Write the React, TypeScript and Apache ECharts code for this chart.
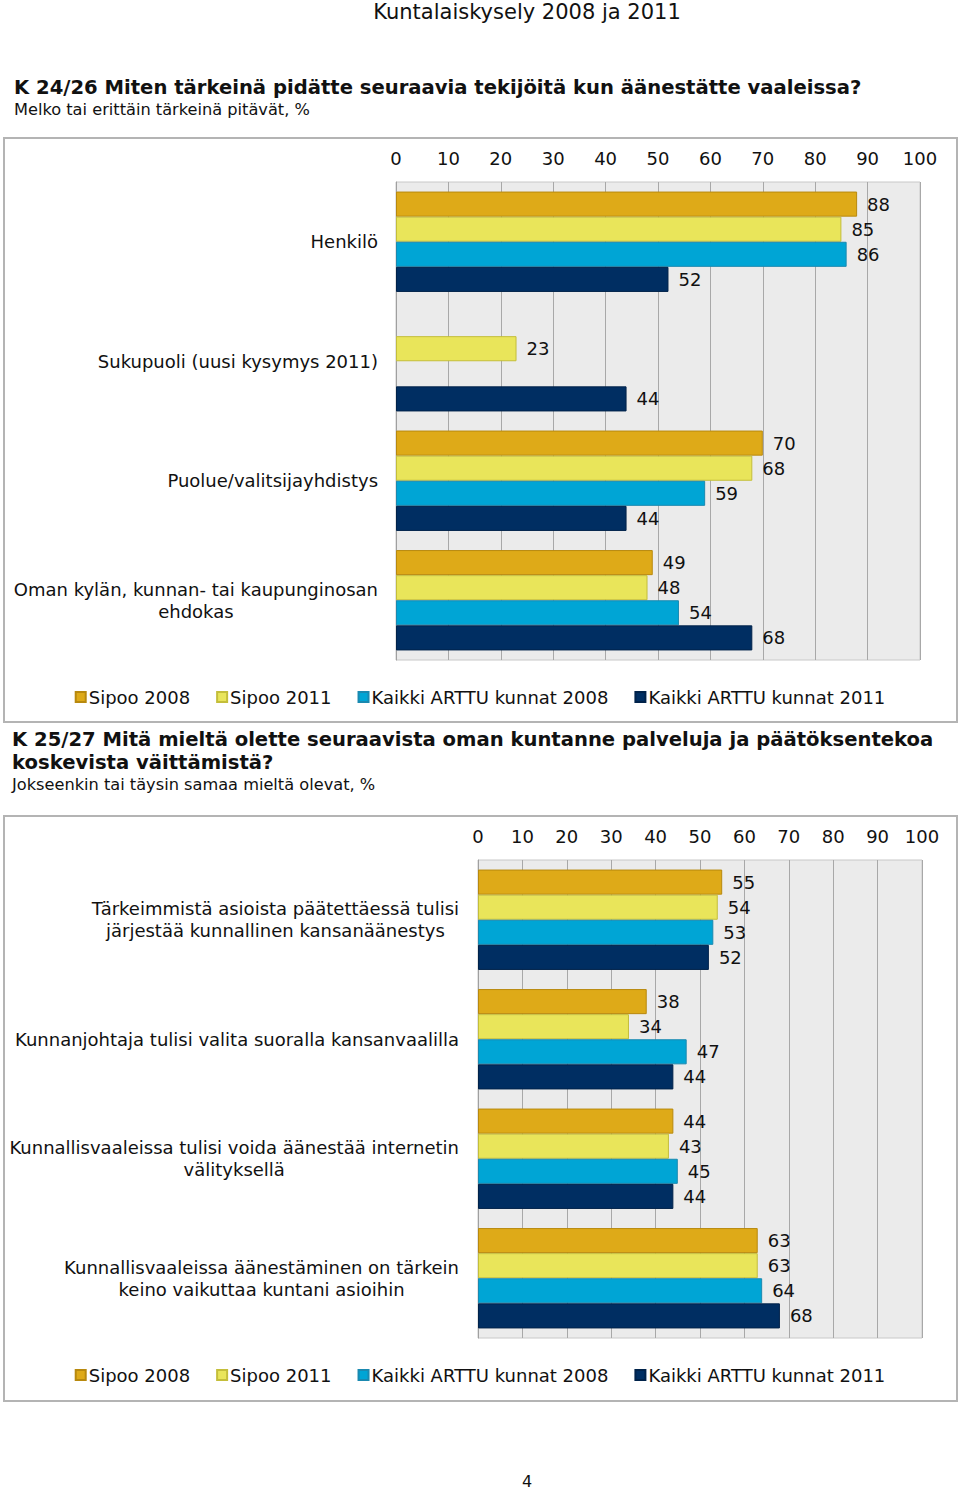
import React, { useEffect, useRef } from "react";
import * as echarts from "echarts";

const FONT = "'DejaVu Sans', Verdana, sans-serif";

const seriesNames = ["Sipoo 2008", "Sipoo 2011", "Kaikki ARTTU kunnat 2008", "Kaikki ARTTU kunnat 2011"];

const categories1 = [
  "Henkilö",
  "Sukupuoli (uusi kysymys 2011)",
  "Puolue/valitsijayhdistys",
  "Oman kylän, kunnan- tai kaupunginosan\nehdokas",
];
const sipoo2008A = [88, null, 70, 49];
const sipoo2011A = [85, 23, 68, 48];
const arttu2008A = [86, null, 59, 54];
const arttu2011A = [52, 44, 44, 68];

const categories2 = [
  "Tärkeimmistä asioista päätettäessä tulisi\njärjestää kunnallinen kansanäänestys",
  "Kunnanjohtaja tulisi valita suoralla kansanvaalilla",
  "Kunnallisvaaleissa tulisi voida äänestää internetin\nvälityksellä",
  "Kunnallisvaaleissa äänestäminen on tärkein\nkeino vaikuttaa kuntani asioihin",
];
const sipoo2008B = [55, 38, 44, 63];
const sipoo2011B = [54, 34, 43, 63];
const arttu2008B = [53, 47, 45, 64];
const arttu2011B = [52, 44, 44, 68];

const xTicks = { min: 0, max: 100, interval: 10 };

const colors = ["#DEAA18", "#E9E55A", "#00A5D5", "#002E62"];
const borders = ["#B8890E", "#C4BE3A", "#1A89B0", "#00224A"];

export default function App() {
  const ref = useRef<HTMLDivElement>(null);

  useEffect(() => {
    if (!ref.current) return;
    const chart = echarts.init(ref.current, null, { renderer: "svg" });

    const grids = [
      { left: 396, top: 182, width: 524, height: 478 },
      { left: 478, top: 860, width: 444, height: 478 },
    ];

    const xAxis = [0, 1].map((i) => ({
      type: "value",
      gridIndex: i,
      position: "top",
      min: xTicks.min,
      max: xTicks.max,
      interval: xTicks.interval,
      axisLine: { show: false },
      axisTick: { show: false },
      axisLabel: { fontSize: 18, fontFamily: FONT, color: "#111", margin: 15 },
      splitLine: { show: true, lineStyle: { color: "#a8a8a8", width: 1 } },
    }));

    const yAxis = [categories1, categories2].map((cats, i) => ({
      type: "category",
      gridIndex: i,
      data: cats,
      inverse: true,
      axisLine: { show: true, lineStyle: { color: "#a0a0a0" } },
      axisTick: { show: false },
      axisLabel: {
        margin: i === 0 ? 18 : 19,
        formatter: (v: string) => v.split("\n").map((l) => `{c|${l}}`).join("\n"),
        rich: {
          c: { align: "center", fontSize: 18, fontFamily: FONT, color: "#111", lineHeight: 22 },
        },
      },
    }));

    const dataA = [sipoo2008A, sipoo2011A, arttu2008A, arttu2011A];
    const dataB = [sipoo2008B, sipoo2011B, arttu2008B, arttu2011B];

    const series: any[] = [];
    [dataA, dataB].forEach((set, gi) => {
      set.forEach((d, si) => {
        series.push({
          type: "bar",
          name: seriesNames[si],
          xAxisIndex: gi,
          yAxisIndex: gi,
          data: d,
          barGap: "0%",
          barCategoryGap: "16%",
          itemStyle: { color: colors[si], borderColor: borders[si], borderWidth: 1 },
          label: {
            show: true,
            position: "right",
            distance: 10,
            fontSize: 18,
            fontFamily: FONT,
            color: "#111",
          },
        });
      });
    });

    const legendBase = {
      data: seriesNames,
      left: "center",
      icon: "rect",
      itemWidth: 10,
      itemHeight: 10,
      itemGap: 26,
      selectedMode: false,
      textStyle: { fontSize: 18, fontFamily: FONT, color: "#111", padding: [0, 0, 0, -2] },
    };

    const txt = (text: string, x: number, y: number, fontSize: number, bold = false, align = "left") => ({
      type: "text",
      x,
      y,
      style: {
        text,
        fontSize,
        fontWeight: bold ? "bold" : "normal",
        fontFamily: FONT,
        fill: "#111",
        textAlign: align,
        textVerticalAlign: "middle",
      },
    });

    chart.setOption({
      animation: false,
      grid: grids.map((g) => ({
        ...g,
        show: true,
        backgroundColor: "#ebebeb",
        borderColor: "#c8c8c8",
        borderWidth: 1,
      })),
      xAxis,
      yAxis,
      series,
      legend: [
        { ...legendBase, top: 683 },
        { ...legendBase, top: 1361 },
      ],
      graphic: [
        {
          type: "rect",
          shape: { x: 4, y: 138, width: 953, height: 584 },
          style: { fill: "none", stroke: "#b4b4b4", lineWidth: 2 },
        },
        {
          type: "rect",
          shape: { x: 4, y: 816, width: 953, height: 585 },
          style: { fill: "none", stroke: "#b4b4b4", lineWidth: 2 },
        },
        txt("Kuntalaiskysely 2008 ja 2011", 527, 12, 21, false, "center"),
        txt("K 24/26 Miten tärkeinä pidätte seuraavia tekijöitä kun äänestätte vaaleissa?", 14, 87, 19.6, true),
        txt("Melko tai erittäin tärkeinä pitävät, %", 14, 109, 16.2),
        txt("K 25/27 Mitä mieltä olette seuraavista oman kuntanne palveluja ja päätöksentekoa", 12, 739, 19.6, true),
        txt("koskevista väittämistä?", 12, 762, 19.6, true),
        txt("Jokseenkin tai täysin samaa mieltä olevat, %", 12, 784, 16.2),
        txt("4", 527, 1481, 16, false, "center"),
      ],
    });

    return () => chart.dispose();
  }, []);

  return (
    <div
      ref={ref}
      style={{ position: "absolute", left: 0, top: 0, width: 960, height: 1491, background: "#fff" }}
    />
  );
}
